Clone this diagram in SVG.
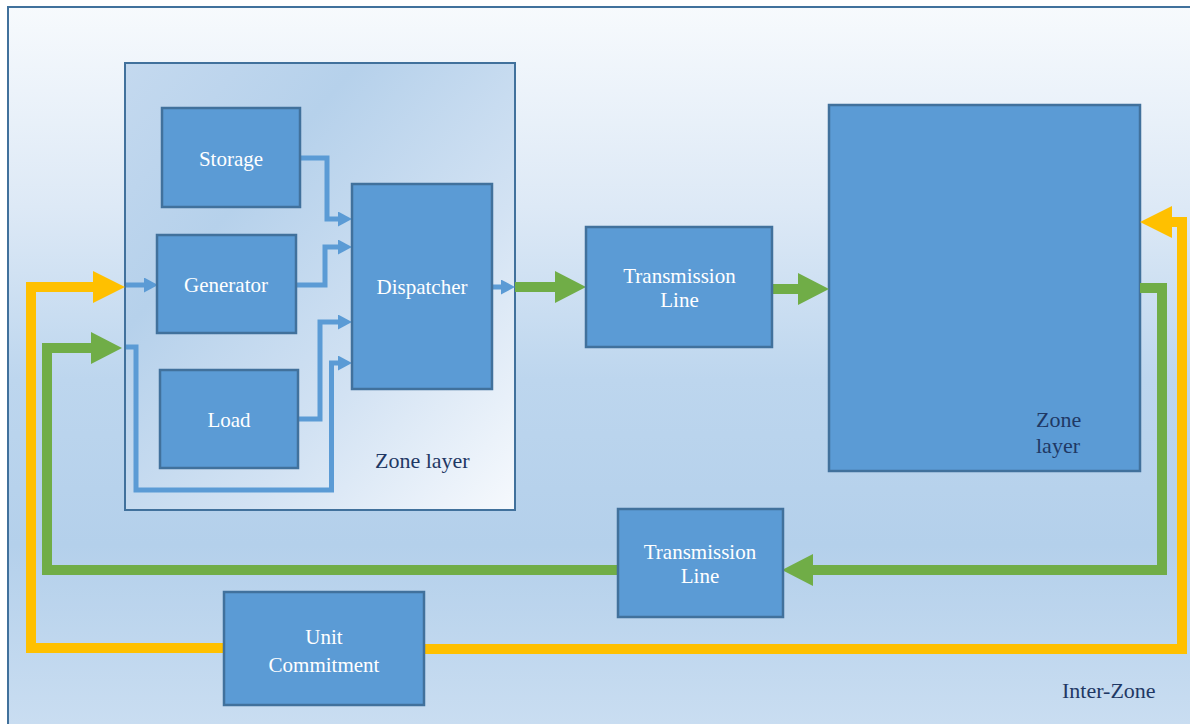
<svg xmlns="http://www.w3.org/2000/svg" width="1190" height="724" viewBox="0 0 1190 724">
  <defs>
    <linearGradient id="bgGrad" gradientUnits="userSpaceOnUse" x1="0" y1="6" x2="0" y2="724">
      <stop offset="0" stop-color="#f7fafd"/>
      <stop offset="0.28" stop-color="#dde9f6"/>
      <stop offset="0.52" stop-color="#bdd6ee"/>
      <stop offset="0.75" stop-color="#b4d0eb"/>
      <stop offset="1" stop-color="#c9ddf1"/>
    </linearGradient>
    <linearGradient id="zoneGrad" x1="0" y1="0" x2="1" y2="1">
      <stop offset="0" stop-color="#c4d9ef"/>
      <stop offset="0.3" stop-color="#b6d1eb"/>
      <stop offset="0.65" stop-color="#d2e2f3"/>
      <stop offset="1" stop-color="#f6f9fd"/>
    </linearGradient>
    <marker id="greenHead" markerUnits="userSpaceOnUse" viewBox="0 -16 31 32" markerWidth="31" markerHeight="32" refX="1" refY="0" orient="auto">
      <path d="M0,-16 L31,0 L0,16 Z" fill="#70ad47"/>
    </marker>
    <marker id="yellowHead" markerUnits="userSpaceOnUse" viewBox="0 -16 32 32" markerWidth="32" markerHeight="32" refX="1" refY="0" orient="auto">
      <path d="M0,-16 L32,0 L0,16 Z" fill="#ffc000"/>
    </marker>
    <marker id="blueHead" markerUnits="userSpaceOnUse" viewBox="0 -7.5 14 15" markerWidth="14" markerHeight="15" refX="1" refY="0" orient="auto">
      <path d="M0,-7.5 L14,0 L0,7.5 Z" fill="#5b9bd5"/>
    </marker>
    <style>
      .box { fill: #5b9bd5; stroke: #41719c; stroke-width: 2.5; }
      .lbl { font-family: "Liberation Serif", "Times New Roman", serif; font-size: 21px; fill: #ffffff; text-anchor: middle; }
      .zl { font-family: "Liberation Serif", "Times New Roman", serif; font-size: 22px; fill: #1f3864; }
      .blue { fill: none; stroke: #5b9bd5; stroke-width: 5; stroke-linejoin: miter; marker-end: url(#blueHead); }
      .green { fill: none; stroke: #70ad47; stroke-width: 10; stroke-linejoin: miter; marker-end: url(#greenHead); }
      .yellow { fill: none; stroke: #ffc000; stroke-width: 10; stroke-linejoin: miter; marker-end: url(#yellowHead); }
    </style>
  </defs>

  <rect x="0" y="0" width="1190" height="724" fill="#ffffff"/>
  <g id="inter-zone-frame">
    <rect x="8" y="7" width="1200" height="740" fill="url(#bgGrad)" stroke="#41719c" stroke-width="2"/>
    <text class="zl" x="1062" y="698" font-size="21">Inter-Zone</text>
  </g>

  <g id="zone-layer-left">
    <rect x="125" y="63" width="390" height="447" fill="url(#zoneGrad)" stroke="#41719c" stroke-width="2"/>
    <text class="zl" x="375" y="468">Zone layer</text>
  </g>

  <g id="zone-layer-right">
    <rect class="box" x="829" y="105" width="311" height="366"/>
    <text class="zl" x="1036" y="427">Zone</text>
    <text class="zl" x="1036" y="453">layer</text>
  </g>

  <g id="connectors">
    <!-- blue internal connectors -->
    <path class="blue" d="M301,158 H327 V219 H339"/>
    <path class="blue" d="M296,285 H325 V247 H339"/>
    <path class="blue" d="M298,419 H320 V322 H339"/>
    <path class="blue" d="M126,347 H136 V490 H331.5 V363 H339"/>
    <path class="blue" d="M126,285 H145"/>
    <path class="blue" d="M492,287 H502"/>
    <!-- green -->
    <path class="green" d="M515,287 H556"/>
    <path class="green" d="M773,289 H799"/>
    <path class="green" d="M1140,288 H1162 V570 H812"/>
    <path class="green" d="M617,570 H47 V348 H92"/>
    <!-- yellow -->
    <path class="yellow" d="M224,648 H31 V287 H94"/>
    <path class="yellow" d="M424,649 H1182 V222 H1171"/>
  </g>

  <g id="storage">
    <rect class="box" x="162" y="108" width="138" height="99"/>
    <text class="lbl" x="231" y="166">Storage</text>
  </g>
  <g id="generator">
    <rect class="box" x="157" y="235" width="139" height="98"/>
    <text class="lbl" x="226" y="292">Generator</text>
  </g>
  <g id="load">
    <rect class="box" x="160" y="370" width="138" height="98"/>
    <text class="lbl" x="229" y="427">Load</text>
  </g>
  <g id="dispatcher">
    <rect class="box" x="352" y="184" width="140" height="205"/>
    <text class="lbl" x="422" y="294">Dispatcher</text>
  </g>
  <g id="transmission-line-1">
    <rect class="box" x="586" y="227" width="186" height="120"/>
    <text class="lbl" x="679.5" y="283">Transmission</text>
    <text class="lbl" x="679.5" y="307">Line</text>
  </g>
  <g id="transmission-line-2">
    <rect class="box" x="618" y="509" width="165" height="108"/>
    <text class="lbl" x="700" y="559">Transmission</text>
    <text class="lbl" x="700" y="583">Line</text>
  </g>
  <g id="unit-commitment">
    <rect class="box" x="224" y="592" width="200" height="113"/>
    <text class="lbl" x="324" y="644" font-size="24">Unit</text>
    <text class="lbl" x="324" y="672" font-size="24">Commitment</text>
  </g>
</svg>
